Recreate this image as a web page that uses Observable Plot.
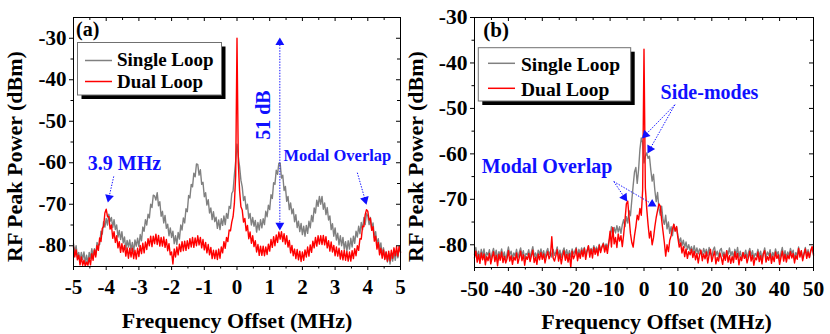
<!DOCTYPE html>
<html><head><meta charset="utf-8">
<script src="https://cdn.jsdelivr.net/npm/d3@7"></script>
<script src="https://cdn.jsdelivr.net/npm/@observablehq/plot@0.6"></script>
<style>
body{margin:0;background:#fff}
#wrap{position:relative;width:830px;height:334px;background:#fff}
#wrap svg{position:absolute;top:0}
</style>
</head><body><div id="wrap"></div>
<script>
// ---- Panel (a): sweep -5..5 MHz, 251 analyzer points
const sweepA = {start: -5, stop: 5, points: 251};
const singleA = [-79.5,-81.7,-80.0,-82.8,-81.6,-83.7,-81.6,-83.3,-81.5,-84.1,
-82.3,-84.3,-81.6,-83.0,-80.7,-82.7,-80.7,-82.2,-79.2,-79.9,
-79.7,-76.5,-77.2,-74.2,-75.5,-73.4,-75.0,-72.4,-74.1,-73.2,
-75.6,-73.7,-76.1,-75.0,-77.9,-76.3,-78.5,-76.6,-79.3,-77.9,
-80.8,-78.7,-80.3,-78.6,-81.1,-79.2,-81.5,-78.6,-80.1,-78.2,
-80.2,-77.3,-78.8,-75.5,-76.5,-73.7,-75.0,-72.4,-73.3,-70.0,
-70.8,-67.8,-68.0,-69.0,-67.2,-70.4,-69.4,-72.9,-71.7,-74.5,
-72.7,-75.8,-74.8,-77.6,-75.7,-78.0,-76.5,-79.5,-77.6,-79.7,
-76.8,-78.4,-75.0,-76.2,-73.3,-74.5,-71.1,-71.8,-67.9,-68.5,
-65.2,-65.8,-62.5,-63.4,-60.3,-60.4,-63.0,-61.7,-65.2,-64.7,
-68.2,-67.2,-70.2,-68.9,-72.1,-70.9,-73.7,-71.8,-74.2,-73.1,
-75.8,-73.8,-76.1,-73.5,-75.1,-72.8,-74.9,-72.2,-73.4,-70.5,
-71.0,-67.4,-66.8,-62.9,-59.6,
-55.5,
-58.5,-61.0,-64.2,-65.8,
-69.1,-68.1,-71.2,-70.0,-73.4,-72.2,-75.0,-73.2,-75.3,-73.9,
-76.7,-74.4,-76.2,-73.7,-75.7,-73.5,-74.9,-71.7,-73.0,-70.2,
-71.3,-67.7,-68.6,-64.8,-65.2,-61.8,-62.8,-60.1,-60.1,-63.7,
-63.0,-66.7,-65.7,-69.3,-68.1,-71.3,-69.7,-72.3,-71.1,-74.2,
-72.5,-75.6,-74.1,-76.6,-74.6,-77.3,-75.3,-77.7,-75.1,-77.0,
-74.1,-75.7,-72.7,-74.2,-70.9,-72.1,-69.0,-70.5,-68.1,-70.0,
-68.1,-71.2,-69.7,-72.5,-70.8,-73.8,-72.8,-76.1,-74.7,-77.7,
-75.7,-78.6,-77.0,-79.8,-77.6,-80.0,-78.0,-80.8,-79.0,-81.3,
-78.8,-80.8,-78.2,-80.3,-77.7,-79.4,-76.5,-77.9,-75.3,-77.1,
-74.4,-76.1,-73.2,-74.9,-72.3,-72.8,-74.9,-73.2,-76.0,-74.5,
-78.0,-76.6,-79.8,-78.3,-80.9,-79.3,-82.3,-80.5,-83.1,-81.5,
-83.9,-81.9,-84.4,-81.9,-83.7,-81.4,-83.5,-81.2,-82.9,-80.3,-81.5];
const dualA = [-80.2,-82.7,-81.0,-83.4,-82.3,-84.6,-82.7,-84.7,-83.5,-84.9,
-83.9,-84.7,-82.9,-84.6,-81.9,-83.5,-81.0,-82.7,-79.9,-81.1,
-78.1,-79.0,-75.8,-75.4,-72.1,-71.2,-73.0,-73.0,-76.0,-75.0,
-78.2,-76.6,-79.2,-77.6,-80.5,-79.0,-81.6,-79.5,-81.5,-79.9,
-82.5,-80.5,-83.0,-80.6,-82.7,-80.6,-83.1,-81.1,-83.2,-80.6,
-82.6,-79.9,-81.9,-79.4,-81.7,-79.1,-80.9,-78.3,-80.0,-77.7,
-80.2,-77.7,-79.5,-77.2,-79.7,-77.5,-80.1,-78.0,-80.1,-77.9,
-80.4,-78.5,-81.2,-79.5,-82.2,-81.5,-84.4,-80.8,-82.7,-80.3,
-82.2,-79.6,-81.4,-79.0,-81.2,-78.9,-81.1,-78.8,-80.7,-78.3,
-80.3,-78.0,-80.4,-78.1,-80.0,-77.6,-79.8,-78.0,-80.5,-78.5,
-81.0,-79.2,-81.7,-79.7,-82.2,-80.4,-83.1,-81.1,-83.1,-81.1,
-83.3,-80.8,-83.0,-80.3,-81.7,-79.0,-80.6,-78.0,-79.0,-76.2,
-76.4,-74.3,-73.0,-69.8,-63.0,
-30.0,
-60.0,-66.8,-70.6,-71.4,
-74.3,-73.4,-76.4,-75.1,-78.3,-76.7,-79.4,-77.6,-80.2,-78.8,
-81.5,-79.7,-82.3,-80.1,-82.3,-80.1,-82.4,-80.3,-82.1,-79.6,
-81.3,-78.5,-80.4,-77.8,-80.0,-77.4,-79.2,-76.7,-78.4,-76.6,
-79.0,-77.1,-79.6,-77.6,-80.3,-78.7,-81.7,-79.9,-82.4,-80.8,
-83.1,-80.9,-83.4,-81.3,-83.8,-81.5,-83.5,-81.0,-82.7,-80.3,
-82.5,-79.8,-81.6,-78.9,-80.5,-78.0,-80.1,-77.6,-79.6,-77.6,
-79.7,-77.5,-79.8,-77.8,-80.5,-78.8,-81.3,-79.1,-81.5,-79.9,
-82.4,-80.3,-82.5,-80.6,-83.2,-81.2,-83.4,-81.1,-83.5,-81.4,
-83.7,-81.5,-83.7,-81.2,-83.1,-80.7,-82.4,-80.0,-81.1,-78.3,
-78.4,-75.3,-75.4,-72.5,-71.3,-71.7,-73.8,-73.4,-76.3,-75.4,
-78.9,-77.7,-80.8,-79.2,-82.2,-80.6,-83.0,-81.0,-83.3,-81.5,
-83.7,-81.3,-83.6,-81.1,-83.0,-80.5,-82.4,-80.2,-82.5,-80.1,-81.6];

// ---- Panel (b): sweep -50..50 MHz, 251 analyzer points
const sweepB = {start: -50, stop: 50, points: 251};
const singleB = [-82.1,-80.6,-82.8,-81.4,-83.0,-81.0,-82.5,-80.9,-83.2,-81.7,
-82.3,-81.1,-83.4,-81.8,-80.8,-82.6,-81.2,-83.1,-81.5,-82.4,
-80.9,-82.7,-81.6,-83.3,-82.0,-80.5,-82.2,-81.4,-83.0,-81.8,
-82.5,-81.0,-82.9,-81.7,-80.7,-82.4,-81.3,-83.1,-81.9,-82.2,
-81.1,-82.8,-81.5,-80.4,-82.6,-81.8,-83.0,-81.2,-82.1,-80.9,
-82.4,-81.3,-82.9,-81.6,-80.8,-82.2,-81.4,-82.7,-81.0,-82.3,
-81.6,-80.5,-82.4,-81.2,-82.8,-81.5,-80.7,-82.3,-81.1,-82.6,
-81.3,-82.7,-80.9,-82.0,-81.4,-80.6,-82.5,-81.0,-82.2,-80.7,
-81.8,-80.6,-82.1,-81.2,-80.3,-81.9,-80.8,-81.6,-80.2,-81.4,
-80.5,-81.6,-79.9,-81.2,-80.4,-79.6,-80.8,-79.8,-80.6,-79.4,
-78.3,-76.0,-77.8,-76.2,-77.4,-75.8,-77.2,-76.0,-77.5,-75.6,
-74.5,-76.0,-73.8,-75.2,-72.5,-73.6,-70.2,-67.0,-64.0,-63.0,
-66.5,-63.5,-59.0,-56.5,-57.5,-62.0,-60.5,-59.8,-61.0,-60.5,
-63.5,-66.0,-64.5,-68.0,-70.5,-68.5,-72.0,-73.5,-71.5,-74.5,
-75.5,-73.5,-76.5,-75.0,-77.5,-76.0,-78.0,-75.5,-77.0,-76.0,
-78.0,-79.5,-78.5,-80.2,-79.0,-80.6,-79.4,-81.0,-80.0,-81.3,
-80.4,-81.6,-80.2,-81.8,-80.7,-82.0,-80.9,-81.5,-82.2,-80.8,
-81.9,-81.0,-82.4,-80.6,-81.7,-82.6,-81.1,-80.5,-82.3,-81.4,
-82.7,-81.2,-80.8,-82.5,-81.6,-83.0,-81.3,-82.1,-80.7,-82.4,
-81.5,-82.8,-81.0,-82.2,-80.6,-82.7,-81.4,-83.1,-81.8,-82.3,
-81.2,-82.9,-81.7,-80.8,-82.5,-81.3,-83.0,-81.9,-82.4,-81.0,
-82.6,-81.4,-83.2,-81.9,-80.7,-82.8,-81.6,-82.3,-81.1,-83.0,
-81.7,-82.5,-80.9,-82.2,-81.5,-83.1,-81.8,-80.6,-82.7,-81.3,
-82.9,-81.6,-82.4,-80.8,-82.0,-81.2,-83.2,-81.7,-82.5,-80.5,
-82.2,-81.4,-83.0,-81.8,-80.6,-82.5,-81.1,-82.8,-81.5,-80.7,-81.9];
const dualB = [-82.9,-81.4,-83.8,-82.2,-84.1,-81.8,-83.3,-82.0,-84.4,-82.6,
-83.5,-81.9,-84.2,-82.8,-81.5,-83.7,-82.3,-84.6,-82.1,-83.4,
-81.6,-83.9,-82.5,-84.0,-83.1,-81.3,-83.6,-82.4,-84.3,-82.7,
-83.4,-81.8,-84.1,-82.9,-81.4,-83.5,-82.2,-84.5,-82.6,-83.2,
-81.9,-83.7,-82.4,-81.2,-83.9,-82.7,-84.3,-82.0,-83.3,-81.7,
-83.2,-82.0,-84.0,-82.6,-81.5,-83.1,-82.3,-78.2,-82.9,-83.6,
-82.4,-81.1,-83.6,-82.0,-84.2,-82.5,-81.3,-83.4,-82.1,-83.8,
-82.0,-85.0,-81.4,-83.1,-82.3,-80.9,-83.5,-81.8,-83.0,-81.2,
-82.6,-80.8,-83.2,-81.5,-80.2,-82.7,-81.0,-82.9,-80.6,-82.1,
-80.9,-82.4,-80.1,-81.7,-80.5,-79.8,-81.6,-80.2,-81.9,-79.7,
-77.0,-80.5,-76.2,-79.8,-78.4,-80.6,-77.6,-79.2,-78.0,-80.4,
-77.8,-74.5,-71.0,-70.4,-74.0,-77.5,-79.5,-80.5,-78.0,-76.0,
-73.5,-74.5,-72.0,-73.5,-68.0,-37.0,-67.5,-72.0,-75.5,-78.5,
-77.0,-80.0,-78.5,-76.0,-74.0,-72.5,-71.0,-71.5,-74.5,-77.0,
-79.5,-82.5,-80.0,-81.5,-79.0,-78.0,-76.5,-75.5,-77.0,-76.0,
-78.5,-80.5,-79.6,-81.8,-80.4,-82.6,-80.9,-83.0,-81.5,-82.2,
-81.0,-82.8,-81.4,-83.3,-81.9,-84.0,-82.2,-81.2,-83.5,-82.0,
-83.1,-81.6,-84.0,-82.3,-81.0,-83.7,-82.5,-81.4,-84.2,-82.8,
-83.6,-81.8,-82.9,-84.3,-82.1,-83.4,-81.3,-83.8,-82.4,-84.1,
-82.6,-83.9,-81.5,-83.2,-81.9,-84.4,-82.7,-83.5,-81.7,-83.0,
-82.2,-84.0,-82.8,-81.4,-83.6,-82.3,-84.5,-82.9,-83.3,-81.6,
-83.7,-82.4,-84.2,-82.0,-81.3,-83.8,-82.6,-83.4,-81.9,-84.1,
-82.5,-83.7,-81.6,-83.0,-82.2,-84.3,-82.8,-81.4,-83.6,-82.1,
-83.8,-82.3,-83.1,-81.5,-82.9,-81.9,-84.0,-82.4,-83.2,-80.8,
-82.7,-81.3,-83.5,-82.1,-80.9,-83.0,-81.6,-82.8,-81.2,-80.4,-82.3];

// ---- ticks
const xTicksA = [-5,-4,-3,-2,-1,0,1,2,3,4,5];
const xMinorA = [-4.5,-3.5,-2.5,-1.5,-0.5,0.5,1.5,2.5,3.5,4.5];
const xTicksB = [-50,-40,-30,-20,-10,0,10,20,30,40,50];
const xMinorB = [-45,-35,-25,-15,-5,5,15,25,35,45];
const yTicks = [-80,-70,-60,-50,-40,-30];
const yMinor = [-75,-65,-55,-45,-35];
const seriesNames = ["Single Loop", "Dual Loop"];

// ---- annotations (data coordinates)
const notesA = [
  {text: "3.9 MHz", x: -3.44, y: -60.1},
  {text: "Modal Overlap", x: 3.07, y: -58.2},
  {text: "51 dB", x: 0.82, y: -48.5}
];
const arrowsA = [
  {x1: -3.77, y1: -63.3, x2: -3.95, y2: -69.6},
  {x1: 3.68, y1: -62.4, x2: 3.96, y2: -70.1},
  {x1: 1.31, y1: -76.3, x2: 1.31, y2: -29.8, both: true}
];
const notesB = [
  {text: "Side-modes", x: 19.3, y: -46.5},
  {text: "Modal Overlap", x: -28.6, y: -62.7}
];
const arrowsB = [
  {x1: 9.1, y1: -49.2, x2: -0.6, y2: -56.6},
  {x1: 9.1, y1: -49.2, x2: 1.03, y2: -59.9},
  {x1: -8.9, y1: -66.1, x2: -4.96, y2: -70.5},
  {x1: -8.9, y1: -66.1, x2: 3.69, y2: -71.6}
];

const FONT = "'Liberation Serif','Times New Roman',serif";
const BLUE = "#1010ff";
const GRAY = "#808080";
const RED = "#ff0000";

function sweepX(s) { return d3.range(s.points).map(i => s.start + i * (s.stop - s.start) / (s.points - 1)); }

function arrowParts(arrows, kx, ky) {
  const tip = 5.1, links = [], heads = [];
  function head(x1, y1, x2, y2) {
    const px = (x2 - x1) * kx, py = -(y2 - y1) * ky;
    const L = Math.hypot(px, py), ux = px / L, uy = py / L;
    const rot = Math.atan2(ux, -uy) * 180 / Math.PI;
    const c = {x: x2 - ux * tip / kx, y: y2 + uy * tip / ky, rot};
    heads.push(c);
    return c;
  }
  for (const a of arrows) {
    const e = head(a.x1, a.y1, a.x2, a.y2);
    const s = a.both ? head(a.x2, a.y2, a.x1, a.y1) : {x: a.x1, y: a.y1};
    links.push({x1: s.x, y1: s.y, x2: e.x, y2: e.y});
  }
  return {links, heads};
}

function panel(o) {
  const h = 334;
  const pw = o.w - o.mL - o.mR, ph = h - o.mT - o.mB;
  const kx = pw / (o.xDom[1] - o.xDom[0]), ky = ph / (o.yDom[1] - o.yDom[0]);
  const xs = sweepX(o.sweep);
  const rowsS = o.single.map((y, i) => ({x: xs[i], y}));
  const rowsD = o.dual.map((y, i) => ({x: xs[i], y}));
  const {links, heads} = arrowParts(o.arrows, kx, ky);
  const tk = {stroke: "#000", strokeWidth: 1};
  const marks = [
    Plot.line(rowsS, {x: "x", y: "y", stroke: GRAY, strokeWidth: 1.4}),
    Plot.line(rowsD, {x: "x", y: "y", stroke: RED, strokeWidth: 1.4}),
    Plot.frame({stroke: "#000", strokeWidth: 1}),
    // left (outward) / right (inward) ticks
    Plot.tickY(yTicks, {y: d => d, insetLeft: -4, insetRight: pw, ...tk}),
    Plot.tickY(yMinor, {y: d => d, insetLeft: -2.5, insetRight: pw, ...tk}),
    Plot.tickY(yTicks, {y: d => d, insetLeft: pw - 4, ...tk}),
    Plot.tickY(yMinor, {y: d => d, insetLeft: pw - 3, ...tk}),
    // bottom (outward) / top (inward) ticks
    Plot.tickX(o.xMaj, {x: d => d, insetTop: ph, insetBottom: -4, ...tk}),
    Plot.tickX(o.xMin, {x: d => d, insetTop: ph, insetBottom: -2.5, ...tk}),
    Plot.tickX(o.xMaj, {x: d => d, insetBottom: ph - 4, ...tk}),
    Plot.tickX(o.xMin, {x: d => d, insetBottom: ph - 3, ...tk}),
    Plot.axisY(yTicks, {anchor: "left", tickSize: 0, tickPadding: 7, tickFormat: d => String(d), fontSize: o.tickFs, fontWeight: "bold", label: null}),
    Plot.axisX(o.xMaj, {anchor: "bottom", tickSize: 0, tickPadding: 13, tickFormat: d => String(d), fontSize: o.tickFs, fontWeight: "bold", label: null}),
    Plot.text(["Frequency Offset (MHz)"], {text: d => d, frameAnchor: "bottom", textAnchor: "middle", lineAnchor: "middle", dx: o.xLabDx, dy: 54.5, fontSize: 22, fontWeight: "bold", fill: "#000"}),
    Plot.text(["RF Peak Power (dBm)"], {text: d => d, frameAnchor: "left", textAnchor: "middle", lineAnchor: "middle", rotate: -90, dx: -59, dy: o.yLabDy, fontSize: 22, fontWeight: "bold", fill: "#000"}),
    Plot.link(links, {x1: "x1", y1: "y1", x2: "x2", y2: "y2", stroke: BLUE, strokeWidth: 1, strokeDasharray: "1.4,1.4"}),
    Plot.dot(heads, {x: "x", y: "y", symbol: "triangle", r: 3.3, fill: BLUE, stroke: "none", rotate: "rot"})
  ];
  o.notes.forEach((n, i) => {
    marks.push(Plot.text([n], {x: "x", y: "y", text: "text", fill: BLUE, fontWeight: "bold",
      textAnchor: "middle", lineAnchor: "middle", fontSize: o.noteFs[i], rotate: o.noteRot[i]}));
  });
  const svg = Plot.plot({
    width: o.w, height: h,
    marginLeft: o.mL, marginRight: o.mR, marginTop: o.mT, marginBottom: o.mB,
    x: {domain: o.xDom, label: null},
    y: {domain: o.yDom, label: null},
    style: {fontFamily: FONT, fontWeight: "bold", background: "transparent", overflow: "visible", color: "#000"},
    marks
  });
  svg.style.left = o.left + "px";
  // legend box (inside frame) and panel tag
  const L = o.legend;
  const g = d3.select(svg).append("g").attr("font-family", FONT).attr("font-weight", "bold").attr("text-anchor", "start");
  g.append("rect").attr("x", L.x + 4).attr("y", L.y + 4).attr("width", L.w).attr("height", L.h).attr("fill", "#000");
  g.append("rect").attr("x", L.x).attr("y", L.y).attr("width", L.w).attr("height", L.h).attr("fill", "#fff").attr("stroke", "#707070").attr("stroke-width", 1);
  [GRAY, RED].forEach((c, i) => {
    g.append("line").attr("x1", L.lx1).attr("x2", L.lx2).attr("y1", L.rows[i]).attr("y2", L.rows[i]).attr("stroke", c).attr("stroke-width", 1.5);
    g.append("text").attr("x", L.tx).attr("y", L.base[i]).attr("font-size", L.fs).attr("fill", "#000").attr("text-anchor", "start").text(seriesNames[i]);
  });
  g.append("text").attr("x", o.tag.x).attr("y", o.tag.y).attr("font-size", o.tag.fs).attr("fill", "#000").attr("text-anchor", "start").text(o.tag.t);
  return svg;
}

const wrap = document.getElementById("wrap");
wrap.appendChild(panel({
  left: 0, w: 415, mL: 73, mR: 15, mT: 17, mB: 68,
  xDom: [-5, 5], yDom: [-85, -25], xMaj: xTicksA, xMin: xMinorA,
  sweep: sweepA, single: singleA, dual: dualA,
  arrows: arrowsA, notes: notesA, noteFs: [20, 16.5, 20], noteRot: [0, 0, -90],
  tickFs: 21, xLabDx: 0, yLabDy: 14.5,
  legend: {x: 77.5, y: 42.5, w: 144, h: 52.5, lx1: 85, lx2: 112, rows: [60.5, 81.5], tx: 117, base: [65.5, 87.5], fs: 19},
  tag: {t: "(a)", x: 76, y: 36, fs: 20}
}));
wrap.appendChild(panel({
  left: 400, w: 430, mL: 74, mR: 17, mT: 17, mB: 67,
  xDom: [-50, 50], yDom: [-85, -30], xMaj: xTicksB, xMin: xMinorB,
  sweep: sweepB, single: singleB, dual: dualB,
  arrows: arrowsB, notes: notesB, noteFs: [20, 20], noteRot: [0, 0],
  tickFs: 21.5, xLabDx: 12.5, yLabDy: 14,
  legend: {x: 78.3, y: 47.7, w: 152.4, h: 53.3, lx1: 88, lx2: 115, rows: [63.3, 88.3], tx: 121, base: [70.5, 95.5], fs: 19.5},
  tag: {t: "(b)", x: 83.3, y: 36.7, fs: 21}
}));
</script></body></html>
